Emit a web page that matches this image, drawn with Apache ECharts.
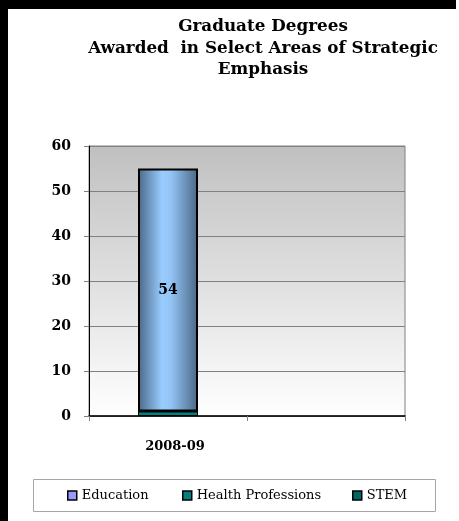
<!DOCTYPE html>
<html>
<head>
<meta charset="utf-8">
<script src="https://cdn.jsdelivr.net/npm/echarts@6/dist/echarts.min.js"></script>
<style>html,body{margin:0;padding:0;background:#fff}#c{width:459px;height:521px}</style>
</head>
<body>
<div id="c"></div>
<script>
var titleLines = ['Graduate Degrees', 'Awarded  in Select Areas of Strategic', 'Emphasis'];
var categories = ['2008-09', ''];
var education = [54, null];
var healthProfessions = [1, null];
var stem = [0, null];
var yTicks = [0, 10, 20, 30, 40, 50, 60];

var serif = '"DejaVu Serif", "Liberation Serif", serif';
var chart = echarts.init(document.getElementById('c'), null, {renderer: 'canvas'});
var legendBase = {
  top: 489, itemWidth: 9, itemHeight: 9, icon: 'rect',
  textStyle: {fontFamily: serif, fontSize: 13, color: '#000'},
  padding: 0
};
chart.setOption({
  animation: false,
  backgroundColor: '#fff',
  title: {
    text: titleLines.join('\n'),
    left: 258, textAlign: 'center', top: 11,
    textStyle: {fontFamily: serif, fontWeight: 'bold', fontSize: 16.8, lineHeight: 21.5, color: '#000'}
  },
  graphic: [
    {type: 'rect', shape: {x: 0, y: 0, width: 8, height: 521}, style: {fill: '#000'}, z: 100},
    {type: 'rect', shape: {x: 0, y: 0, width: 456, height: 9}, style: {fill: '#000'}, z: 100},
    {type: 'rect', shape: {x: 33.5, y: 479.5, width: 402, height: 32}, style: {fill: 'none', stroke: '#a6a6a6', lineWidth: 1}, z: 1}
  ],
  legend: [
    Object.assign({}, legendBase, {left: 67, data: [{name: 'Education', itemStyle: {color: '#9999ff', borderColor: '#000', borderWidth: 1.5}}]}),
    Object.assign({}, legendBase, {left: 182, data: [{name: 'Health Professions', itemStyle: {color: '#008080', borderColor: '#000', borderWidth: 1.5}}]}),
    Object.assign({}, legendBase, {left: 352, data: [{name: 'STEM', itemStyle: {color: '#006666', borderColor: '#000', borderWidth: 1.5}}]})
  ],
  grid: {
    left: 89, right: 54, top: 146, bottom: 105,
    show: true, borderColor: '#808080', borderWidth: 1,
    backgroundColor: new echarts.graphic.LinearGradient(0, 0, 0, 1, [
      {offset: 0, color: '#c0c0c0'}, {offset: 1, color: '#ffffff'}
    ])
  },
  xAxis: {
    type: 'category', data: categories,
    axisLine: {lineStyle: {color: '#000', width: 1.5}},
    axisTick: {show: true, length: 5, lineStyle: {color: '#808080'}},
    axisLabel: {fontFamily: serif, fontWeight: 'bold', fontSize: 13, color: '#000', margin: 24, padding: [0, 0, 0, 14]}
  },
  yAxis: {
    type: 'value', min: yTicks[0], max: yTicks[yTicks.length - 1], interval: 10,
    axisLine: {show: true, lineStyle: {color: '#000', width: 1}},
    axisTick: {show: true, length: 5, lineStyle: {color: '#808080'}},
    splitLine: {lineStyle: {color: '#808080', width: 1}},
    axisLabel: {fontFamily: serif, fontWeight: 'bold', fontSize: 14, color: '#000', margin: 18}
  },
  series: [
    {name: 'Health Professions', type: 'bar', stack: 'a', data: healthProfessions, barWidth: 60,
     itemStyle: {color: '#008080', borderColor: '#000', borderWidth: 1}},
    {name: 'STEM', type: 'bar', stack: 'a', data: stem, barWidth: 60,
     itemStyle: {color: '#006666', borderColor: '#000', borderWidth: 1}},
    {name: 'Education', type: 'bar', stack: 'a', data: education, barWidth: 60,
     itemStyle: {
       color: new echarts.graphic.LinearGradient(0, 0, 1, 0, [
         {offset: 0, color: '#4a6786'}, {offset: 0.4, color: '#99ccff'}, {offset: 0.55, color: '#94c4f5'}, {offset: 1, color: '#4a6786'}
       ]),
       borderColor: '#000', borderWidth: 2
     },
     label: {show: true, position: 'inside', fontFamily: serif, fontWeight: 'bold', fontSize: 14, color: '#000'}}
  ]
});
</script>
</body>
</html>
